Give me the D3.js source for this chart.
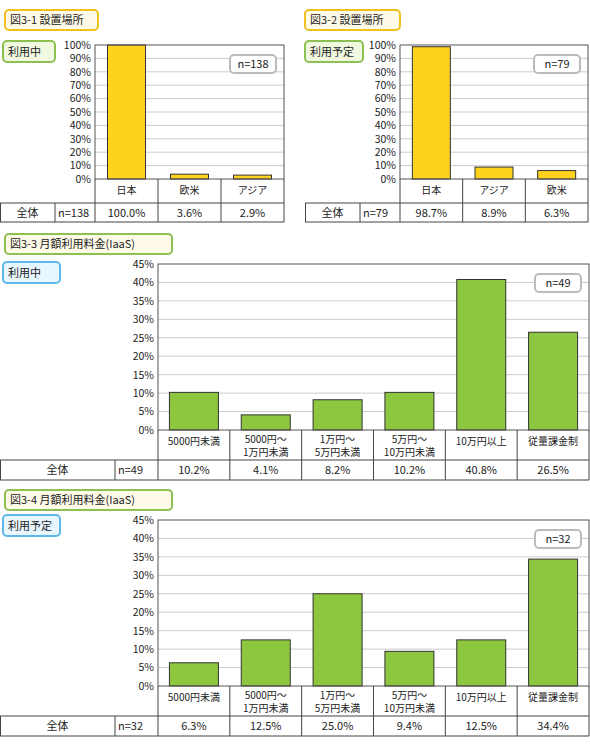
<!DOCTYPE html><html><head><meta charset="utf-8"><script src="https://cdn.jsdelivr.net/npm/d3@7"></script>
<style>body{margin:0;background:#fff}text{font-family:"Noto Sans CJK JP",sans-serif;font-size:11px;fill:#222}</style></head><body>
<svg id="s" width="590" height="747"></svg>
<script>
const cats1=["日本","欧米","アジア"], vals1=[100.0,3.6,2.9];
const cats2=["日本","アジア","欧米"], vals2=[98.7,8.9,6.3];
const cats3=["5000円未満","5000円～\n1万円未満","1万円～\n5万円未満","5万円～\n10万円未満","10万円以上","従量課金制"];
const vals3=[10.2,4.1,8.2,10.2,40.8,26.5];
const vals4=[6.3,12.5,25.0,9.4,12.5,34.4];
const ticks100=d3.range(0,101,10), ticks45=d3.range(0,46,5);
const svg=d3.select("#s");
function box(x,y,w,h,txt,stroke,fill){
  svg.append("rect").attr("x",x).attr("y",y).attr("width",w).attr("height",h).attr("rx",4).attr("fill",fill).attr("stroke",stroke).attr("stroke-width",2);
  svg.append("text").attr("x",x+5).attr("y",y+h/2+4).text(txt);
}
function chart(o){
  box(o.tx,o.ty,o.tw,20,o.title,o.tstroke,"#fffbe8");
  box(o.bx,o.by,o.bw,21,o.badge,o.bstroke,o.bfill);
  const x=d3.scaleBand().domain(o.cats).range([o.x0,o.x1]);
  const y=d3.scaleLinear().domain([0,o.max]).range([o.y1,o.y0]);
  const g=svg.append("g");
  g.append("g").selectAll("line").data(o.ticks.slice(1,-1)).join("line").attr("x1",o.x0).attr("x2",o.x1).attr("y1",d=>y(d)).attr("y2",d=>y(d)).attr("stroke","#ccc");
  g.selectAll("rect.b").data(o.vals).join("rect").attr("x",(d,i)=>x(o.cats[i])+(x.bandwidth()-o.barw)/2).attr("width",o.barw)
   .attr("y",d=>y(d)).attr("height",d=>o.y1-y(d)).attr("fill",o.color).attr("stroke","#333");
  g.append("rect").attr("x",o.x0).attr("y",o.y0).attr("width",o.x1-o.x0).attr("height",o.y1-o.y0).attr("fill","none").attr("stroke","#555");
  const ax=d3.axisLeft(y).tickValues(o.ticks).tickFormat(d=>d+"%").tickSize(0).tickPadding(4);
  const a=g.append("g").attr("transform",`translate(${o.x0},0)`).call(ax);
  a.select(".domain").remove(); a.selectAll("text").style("font-size","10.5px");
  const nx=o.x1-54,ny=o.y0+10;
  g.append("rect").attr("x",nx).attr("y",ny).attr("width",46).attr("height",18).attr("rx",4).attr("fill","#fff").attr("stroke","#bbb").attr("stroke-width",2);
  g.append("text").attr("x",nx+23).attr("y",ny+13).attr("text-anchor","middle").text("n="+o.n);
  const L="#444", tl=o.tl;
  const line=(x1,y1,x2,y2)=>g.append("line").attr("x1",x1).attr("y1",y1).attr("x2",x2).attr("y2",y2).attr("stroke",L);
  line(o.x0,o.y1,o.x0,o.rb2); line(o.x1,o.y1,o.x1,o.rb2);
  line(tl,o.rb,o.x1,o.rb); line(tl,o.rb2,o.x1,o.rb2); line(tl+0.5,o.rb,tl+0.5,o.rb2); line(o.c1,o.rb,o.c1,o.rb2);
  o.cats.forEach((c,i)=>{
    const cx=x(c); if(i>0) line(cx,o.y1,cx,o.rb2);
    const parts=c.split("\n");
    parts.forEach((s,j)=>g.append("text").attr("x",cx+x.bandwidth()/2).attr("y",o.y1+(parts.length>1?13:15)+j*13).attr("text-anchor","middle").style("font-size","10px").text(s));
    g.append("text").attr("x",cx+x.bandwidth()/2).attr("y",o.rb+14).attr("text-anchor","middle").text(o.vals[i].toFixed(1)+"%");
  });
  g.append("text").attr("x",(tl+o.c1)/2).attr("y",o.rb+14).attr("text-anchor","middle").text("全体");
  g.append("text").attr("x",o.c1+3).attr("y",o.rb+14).text("n="+o.n);
}
chart({title:"図3-1 設置場所",tx:5,ty:10,tw:93,tstroke:"#f0c020",badge:"利用中",bx:3,by:41,bw:52,bstroke:"#8cc050",bfill:"#f0f8e0",
  cats:cats1,vals:vals1,x0:95,x1:284,y0:45,y1:179,max:100,ticks:ticks100,barw:38,color:"#ffd21e",n:138,rb:203,rb2:222,c1:55,tl:0});
chart({title:"図3-2 設置場所",tx:305,ty:10,tw:95,tstroke:"#f0c020",badge:"利用予定",bx:305,by:41,bw:58,bstroke:"#8cc050",bfill:"#f0f8e0",
  cats:cats2,vals:vals2,x0:400,x1:588,y0:45,y1:179,max:100,ticks:ticks100,barw:38,color:"#ffd21e",n:79,rb:203,rb2:222,c1:360,tl:305});
chart({title:"図3-3 月額利用料金(IaaS)",tx:5,ty:234,tw:167,tstroke:"#8cc050",badge:"利用中",bx:3,by:262,bw:57,bstroke:"#60b8e8",bfill:"#e8f6ff",
  cats:cats3,vals:vals3,x0:158,x1:589,y0:264,y1:430,max:45,ticks:ticks45,barw:49,color:"#8dc63f",n:49,rb:460,rb2:480,c1:115,tl:0});
chart({title:"図3-4 月額利用料金(IaaS)",tx:5,ty:490,tw:167,tstroke:"#8cc050",badge:"利用予定",bx:3,by:515,bw:57,bstroke:"#60b8e8",bfill:"#e8f6ff",
  cats:cats3,vals:vals4,x0:158,x1:589,y0:520,y1:686,max:45,ticks:ticks45,barw:49,color:"#8dc63f",n:32,rb:716,rb2:736,c1:115,tl:0});
</script></body></html>
